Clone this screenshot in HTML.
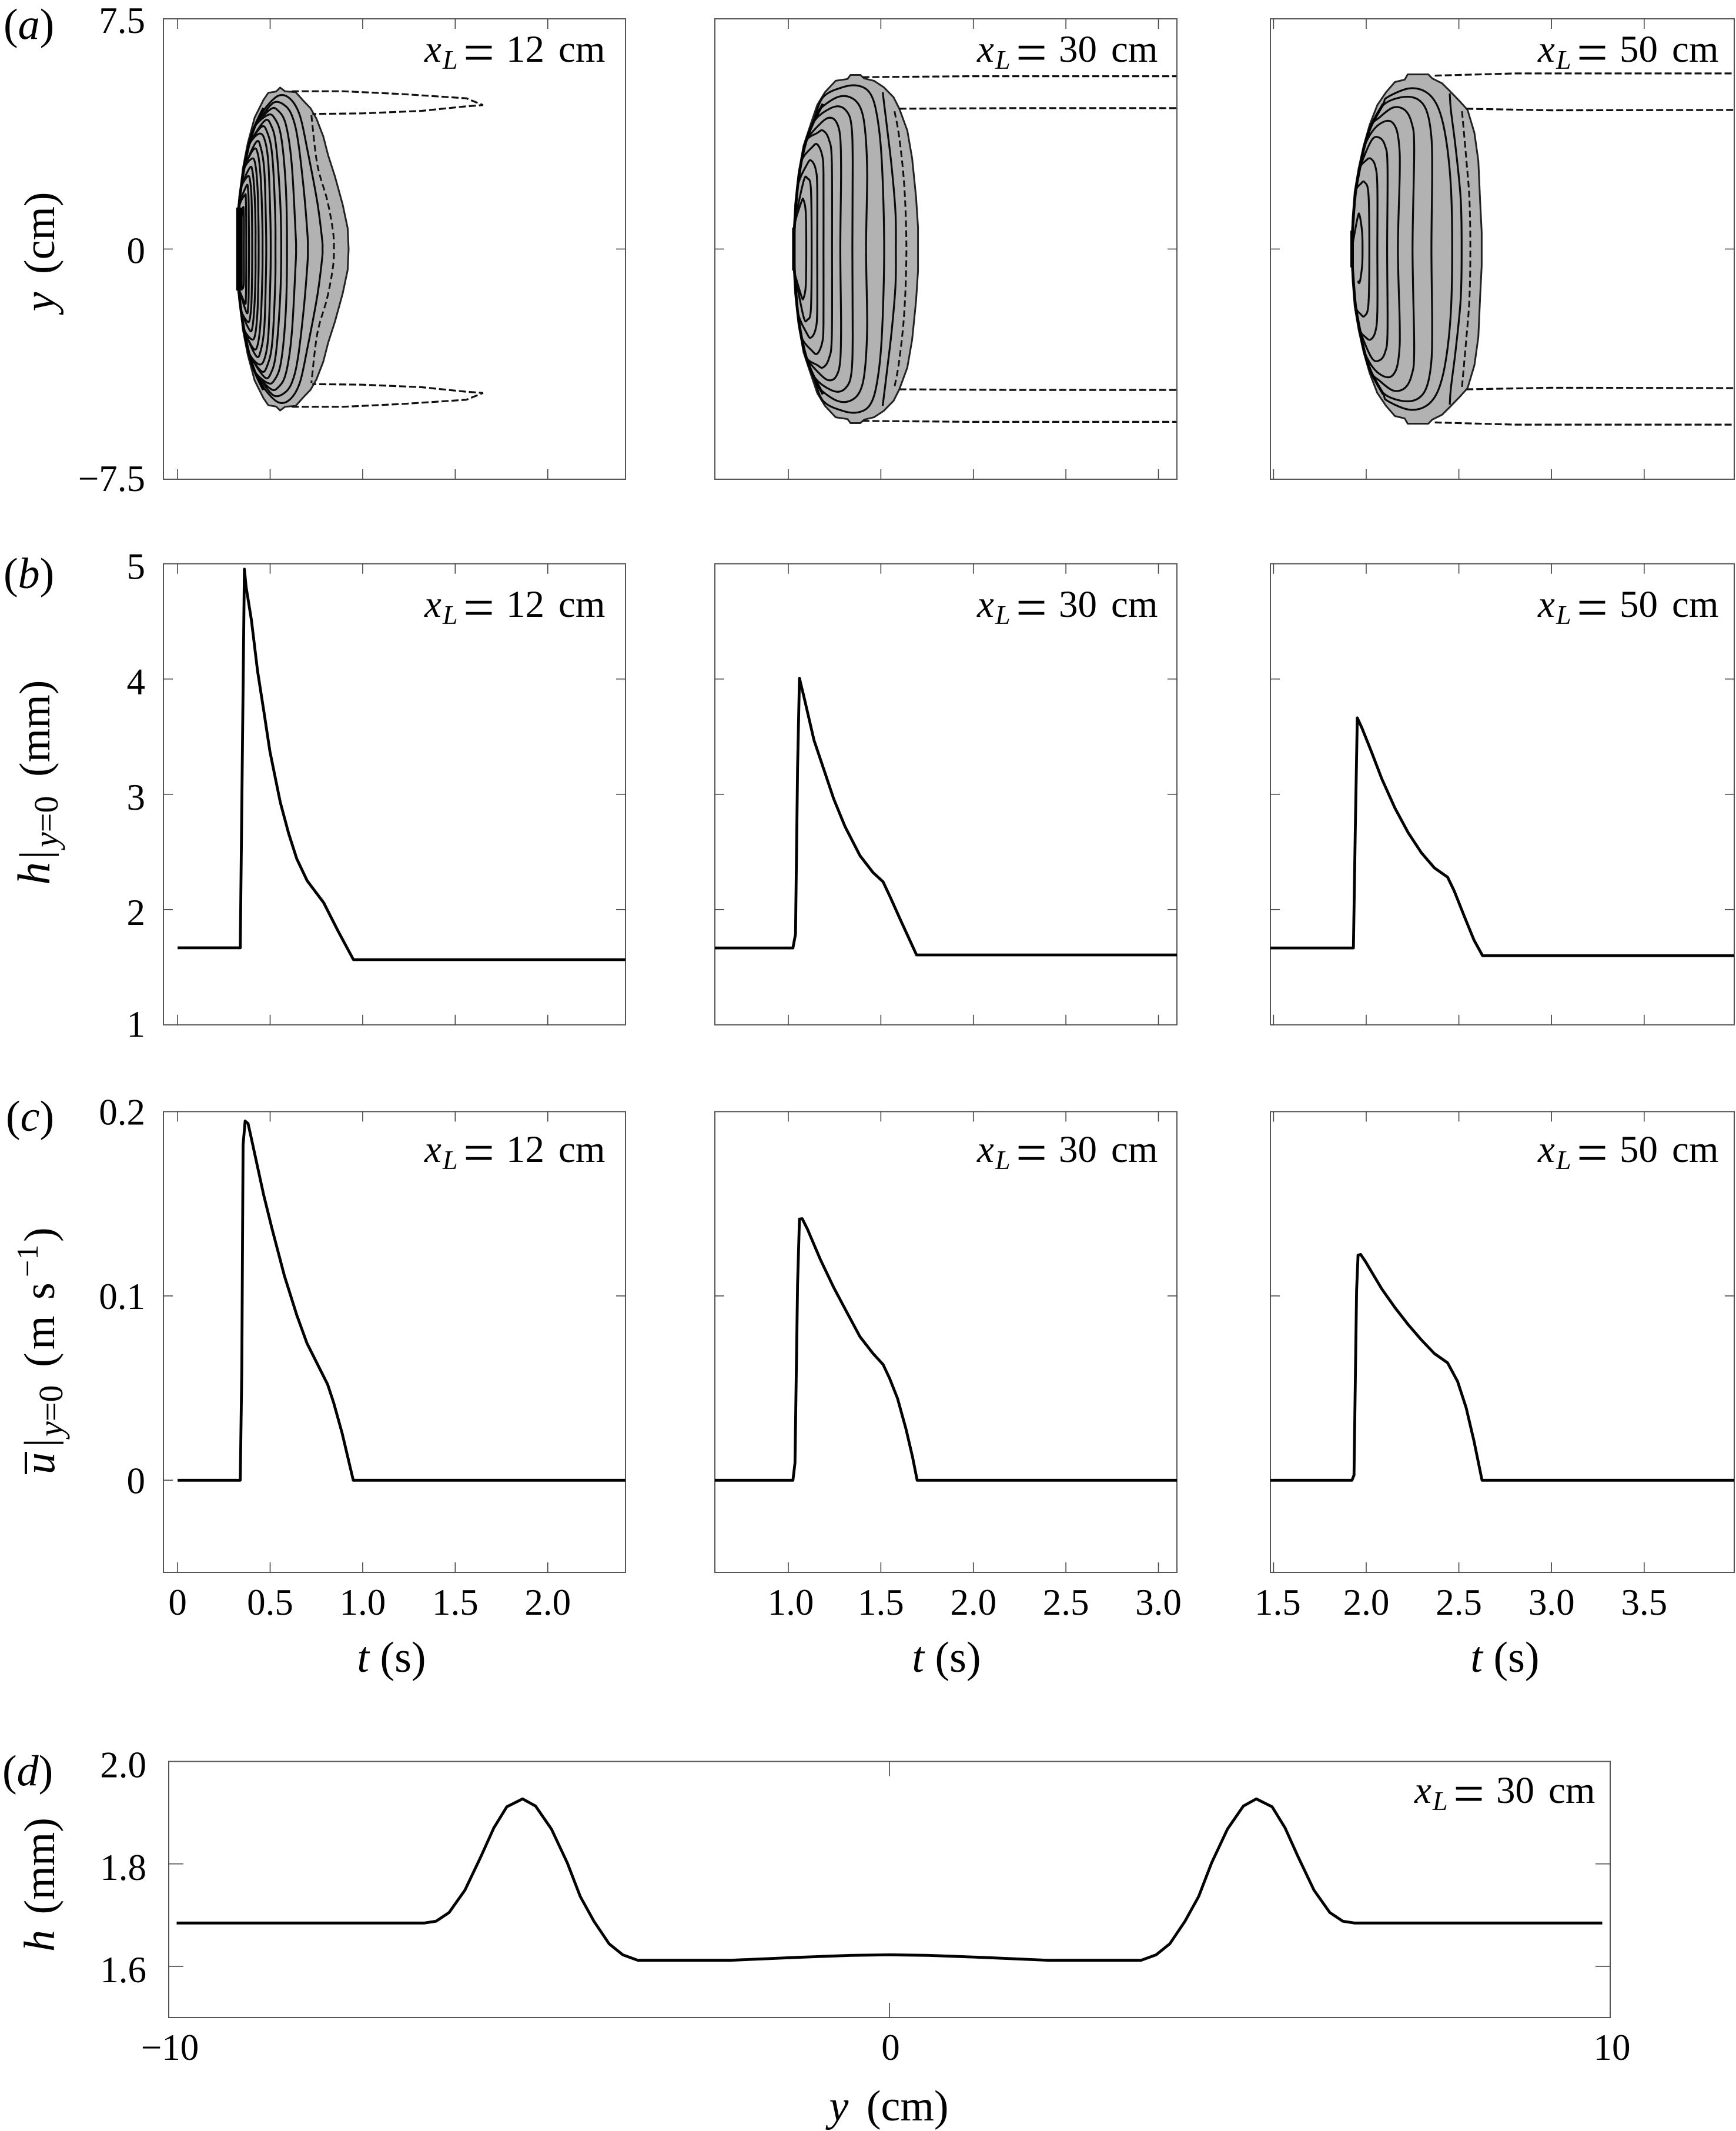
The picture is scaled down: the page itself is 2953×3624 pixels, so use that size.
<!DOCTYPE html>
<html lang="en">
<head>
<meta charset="utf-8">
<title>Bore front contours and profiles</title>
<style>
html,body{margin:0;padding:0;background:#fff;}
svg{display:block;}
text{font-family:"Liberation Serif",serif;fill:#000;}
.i{font-style:italic;}
.tick-label{font-size:63px;}
.lab{font-size:74px;}
.ann{font-size:65px;}
</style>
</head>
<body>
<svg id="fig" xmlns="http://www.w3.org/2000/svg" width="2953" height="3624" viewBox="0 0 2953 3624">
<rect x="0" y="0" width="2953" height="3624" fill="#fff"/>
<g id="marks"></g>

<text x="6" y="66" font-size="74">(<tspan class="i">a</tspan>)</text>
<text x="6" y="1000" font-size="74">(<tspan class="i">b</tspan>)</text>
<text x="10" y="1923" font-size="74">(<tspan class="i">c</tspan>)</text>
<text x="4" y="3036" font-size="74">(<tspan class="i">d</tspan>)</text>

<text class="lab" transform="translate(92,428) rotate(-90)" text-anchor="middle"><tspan class="i">y</tspan><tspan dx="12"> (cm)</tspan></text>
<text class="lab" transform="translate(84,1505) rotate(-90)"><tspan class="i" font-size="78" x="0">h</tspan><tspan x="44">|</tspan><tspan class="i" font-size="58" x="64" dy="14">y</tspan><tspan font-size="58">=0</tspan><tspan x="184" dy="-14">(mm)</tspan></text>
<g transform="translate(92,2507) rotate(-90)">
  <text><tspan class="i lab" x="0">u</tspan><tspan class="lab" x="46">|</tspan><tspan class="i" font-size="58" x="64" dy="14">y</tspan><tspan font-size="58">=0</tspan><tspan class="lab" x="182" dy="-14">(</tspan><tspan class="lab" x="212">m</tspan><tspan class="lab" x="297">s</tspan><tspan font-size="52" x="335" dy="-28">−1</tspan><tspan class="lab" x="395" dy="28">)</tspan></text>
  <rect x="0" y="-50" width="38" height="4" fill="#000"/>
</g>
<text class="lab" transform="translate(92,3205) rotate(-90)" text-anchor="middle"><tspan class="i">h</tspan><tspan dx="8"> (mm)</tspan></text>

<text class="lab" x="666" y="2843" text-anchor="middle"><tspan class="i">t</tspan> (s)</text>
<text class="lab" x="1610" y="2843" text-anchor="middle"><tspan class="i">t</tspan> (s)</text>
<text class="lab" x="2560" y="2843" text-anchor="middle"><tspan class="i">t</tspan> (s)</text>
<text class="lab" x="1512" y="3606" text-anchor="middle"><tspan class="i">y</tspan><tspan dx="12"> (cm)</tspan></text>

<text class="ann" transform="translate(1031,105)"><tspan class="i" x="-309">x</tspan><tspan class="i" font-size="46" x="-278" dy="12">L</tspan><tspan font-size="94" x="-243" dy="4">=</tspan><tspan x="-170" dy="-16">12</tspan><tspan x="-81">cm</tspan></text>
<text class="ann" transform="translate(1971,105)"><tspan class="i" x="-309">x</tspan><tspan class="i" font-size="46" x="-278" dy="12">L</tspan><tspan font-size="94" x="-243" dy="4">=</tspan><tspan x="-170" dy="-16">30</tspan><tspan x="-81">cm</tspan></text>
<text class="ann" transform="translate(2925,105)"><tspan class="i" x="-309">x</tspan><tspan class="i" font-size="46" x="-278" dy="12">L</tspan><tspan font-size="94" x="-243" dy="4">=</tspan><tspan x="-170" dy="-16">50</tspan><tspan x="-81">cm</tspan></text>
<text class="ann" transform="translate(1031,1049)"><tspan class="i" x="-309">x</tspan><tspan class="i" font-size="46" x="-278" dy="12">L</tspan><tspan font-size="94" x="-243" dy="4">=</tspan><tspan x="-170" dy="-16">12</tspan><tspan x="-81">cm</tspan></text>
<text class="ann" transform="translate(1971,1049)"><tspan class="i" x="-309">x</tspan><tspan class="i" font-size="46" x="-278" dy="12">L</tspan><tspan font-size="94" x="-243" dy="4">=</tspan><tspan x="-170" dy="-16">30</tspan><tspan x="-81">cm</tspan></text>
<text class="ann" transform="translate(2925,1049)"><tspan class="i" x="-309">x</tspan><tspan class="i" font-size="46" x="-278" dy="12">L</tspan><tspan font-size="94" x="-243" dy="4">=</tspan><tspan x="-170" dy="-16">50</tspan><tspan x="-81">cm</tspan></text>
<text class="ann" transform="translate(1031,1976)"><tspan class="i" x="-309">x</tspan><tspan class="i" font-size="46" x="-278" dy="12">L</tspan><tspan font-size="94" x="-243" dy="4">=</tspan><tspan x="-170" dy="-16">12</tspan><tspan x="-81">cm</tspan></text>
<text class="ann" transform="translate(1971,1976)"><tspan class="i" x="-309">x</tspan><tspan class="i" font-size="46" x="-278" dy="12">L</tspan><tspan font-size="94" x="-243" dy="4">=</tspan><tspan x="-170" dy="-16">30</tspan><tspan x="-81">cm</tspan></text>
<text class="ann" transform="translate(2925,1976)"><tspan class="i" x="-309">x</tspan><tspan class="i" font-size="46" x="-278" dy="12">L</tspan><tspan font-size="94" x="-243" dy="4">=</tspan><tspan x="-170" dy="-16">50</tspan><tspan x="-81">cm</tspan></text>
<text class="ann" transform="translate(2715,3066)"><tspan class="i" x="-309">x</tspan><tspan class="i" font-size="46" x="-278" dy="12">L</tspan><tspan font-size="94" x="-243" dy="4">=</tspan><tspan x="-170" dy="-16">30</tspan><tspan x="-81">cm</tspan></text>
</svg>

<script>
// ---------- tick values and labels ----------
const xTicksCol1 = [0, 0.5, 1.0, 1.5, 2.0];
const xTicksCol2 = [1.0, 1.5, 2.0, 2.5, 3.0];
const xTicksCol3 = [1.5, 2.0, 2.5, 3.0, 3.5];
const xTickLabelsCol1 = ['0', '0.5', '1.0', '1.5', '2.0'];
const xTickLabelsCol2 = ['1.0', '1.5', '2.0', '2.5', '3.0'];
const xTickLabelsCol3 = ['1.5', '2.0', '2.5', '3.0', '3.5'];
const yTicksA = [7.5, 0, -7.5];
const yTickLabelsA = ['7.5', '0', '−7.5'];
const yTicksB = [5, 4, 3, 2, 1];
const yTickLabelsB = ['5', '4', '3', '2', '1'];
const yTicksC = [0.2, 0.1, 0];
const yTickLabelsC = ['0.2', '0.1', '0'];
const yTicksD = [2.0, 1.8, 1.6];
const yTickLabelsD = ['2.0', '1.8', '1.6'];
const xTicksD = [-10, 0, 10];
const xTickLabelsD = ['−10', '0', '10'];

// ---------- panel (b): centreline depth h (mm) against t (s) ----------
const hTimeCol1 = [0, 0.3385, 0.361, 0.37, 0.399, 0.432, 0.466, 0.499, 0.555, 0.6, 0.644, 0.7, 0.789, 0.868, 0.95, 2.42];
const hValueCol1 = [1.668, 1.668, 4.953, 4.8, 4.51, 4.07, 3.72, 3.37, 2.93, 2.66, 2.44, 2.25, 2.06, 1.81, 1.565, 1.565];
const hTimeCol2 = [0.603, 1.025, 1.039, 1.05, 1.06, 1.085, 1.139, 1.192, 1.245, 1.306, 1.387, 1.458, 1.512, 1.547, 1.607, 1.693, 3.1];
const hValueCol2 = [1.667, 1.667, 1.787, 3.228, 4.007, 3.842, 3.468, 3.215, 2.961, 2.721, 2.468, 2.321, 2.241, 2.121, 1.907, 1.606, 1.606];
const hTimeCol3 = [1.483, 1.931, 1.941, 1.952, 1.977, 2.03, 2.084, 2.155, 2.226, 2.297, 2.368, 2.439, 2.475, 2.528, 2.582, 2.628, 3.986];
const hValueCol3 = [1.667, 1.667, 2.694, 3.663, 3.575, 3.362, 3.135, 2.881, 2.668, 2.494, 2.361, 2.281, 2.161, 1.947, 1.734, 1.6, 1.6];

// ---------- panel (c): centreline velocity (m/s) against t (s) ----------
const uTimeCol1 = [0, 0.3385, 0.347, 0.354, 0.365, 0.381, 0.399, 0.432, 0.465, 0.51, 0.577, 0.644, 0.699, 0.755, 0.811, 0.844, 0.889, 0.949, 2.42];
const uValueCol1 = [0, 0, 0.06, 0.182, 0.1949, 0.1935, 0.1853, 0.17, 0.1548, 0.1365, 0.111, 0.0896, 0.0743, 0.0631, 0.0519, 0.0418, 0.0255, 0, 0];
const uTimeCol2 = [0.603, 1.025, 1.036, 1.05, 1.06, 1.075, 1.103, 1.174, 1.245, 1.316, 1.387, 1.458, 1.512, 1.547, 1.59, 1.636, 1.671, 1.696, 3.1];
const uValueCol2 = [0, 0, 0.0094, 0.1063, 0.1417, 0.1419, 0.1363, 0.1196, 0.1046, 0.0912, 0.0779, 0.0687, 0.0628, 0.0553, 0.0444, 0.0277, 0.0127, 0, 0];
const uTimeCol3 = [1.483, 1.923, 1.934, 1.948, 1.956, 1.97, 1.995, 2.084, 2.155, 2.226, 2.297, 2.368, 2.439, 2.493, 2.539, 2.582, 2.625, 3.986];
const uValueCol3 = [0, 0, 0.0027, 0.1029, 0.1221, 0.1225, 0.1188, 0.1038, 0.0937, 0.0845, 0.0762, 0.0687, 0.0637, 0.0536, 0.0394, 0.0211, 0, 0];

// ---------- panel (d): depth profile h (mm) against y (cm) ----------
const profileY = [-9.89, -6.45, -6.29, -6.11, -5.89, -5.67, -5.49, -5.31, -5.09, -4.91, -4.69, -4.47, -4.29, -4.10, -3.89, -3.70, -3.49, -2.21, -1.27, -0.54, 0, 0.54, 1.27, 2.21, 3.49, 3.70, 3.89, 4.10, 4.29, 4.47, 4.69, 4.91, 5.09, 5.31, 5.49, 5.67, 5.89, 6.11, 6.29, 6.45, 9.89];
const profileH = [1.6845, 1.6845, 1.688, 1.705, 1.7487, 1.814, 1.870, 1.9115, 1.927, 1.913, 1.868, 1.802, 1.7365, 1.688, 1.644, 1.6224, 1.6117, 1.6117, 1.6175, 1.6214, 1.6224, 1.6214, 1.6175, 1.6117, 1.6117, 1.6224, 1.644, 1.688, 1.7365, 1.802, 1.868, 1.913, 1.927, 1.9115, 1.870, 1.814, 1.7487, 1.705, 1.688, 1.6845, 1.6845];

// ---------- panel (a): plan-view shapes, upper half as [t, y in cm] ----------
const outlineCol1 = [[.326,0],[.326,1.3],[.342,1.98],[.352,2.6],[.379,3.44],[.416,4.28],[.464,4.86],[.49,5.09],[.532,5.13],[.554,5.26],[.58,5.14],[.638,5.11],[.681,4.82],[.718,4.59],[.75,4.25],[.787,3.67],[.813,3.06],[.85,2.37],[.892,1.45],[.919,.68],[.924,0]];
const frontCol1 = [[.326,0],[.331,1.3],[.342,1.98],[.358,2.6],[.384,3.36],[.416,3.98],[.464,4.59]];
const frontCoreCol1 = [[.334,1.35],[.334,0]];
const contoursCol1 = [
 [[.464,4.51],[.543,4.99],[.607,4.90],[.66,4.36],[.702,3.21],[.755,1.52],[.781,.3],[.783,0]],
 [[.464,4.40],[.522,4.78],[.575,4.70],[.617,4.36],[.649,3.59],[.681,1.98],[.702,.45],[.704,0]],
 [[.501,4.55],[.543,4.51],[.585,4.05],[.617,2.75],[.638,.45],[.64,0]],
 [[.485,4.36],[.522,4.28],[.559,3.67],[.585,1.98],[.591,0]],
 [[.469,4.17],[.506,4.02],[.532,3.36],[.554,1.6],[.56,0]],
 [[.453,3.98],[.485,3.79],[.511,3.06],[.527,1.22],[.529,0]],
 [[.437,3.75],[.469,3.59],[.49,2.83],[.501,1.07],[.503,0]],
 [[.424,3.48],[.45,3.29],[.469,2.52],[.477,.91],[.479,0]],
 [[.411,3.25],[.435,3.06],[.45,2.21],[.458,.84],[.459,0]],
 [[.4,2.94],[.419,2.79],[.432,1.98],[.437,.84],[.438,0]],
 [[.389,2.64],[.405,2.52],[.416,1.75],[.421,.76],[.421,0]],
 [[.379,2.37],[.392,2.21],[.4,1.6],[.403,0]],
 [[.372,2.06],[.381,1.91],[.384,1.45],[.386,0]],
 [[.363,1.75],[.369,1.56],[.371,0]],
 [[.352,1.3],[.358,1.07],[.358,0]]
];
const openContoursCol1 = [];
const innerDashCol1 = [[.723,4.36],[.755,2.75],[.808,1.6],[.839,.61],[.845,0]];
const wakeCol1 = [[[.617,5.14],[.893,5.14],[1.21,5.05],[1.56,4.91],[1.65,4.69],[1.56,4.65],[1.316,4.5],[.998,4.42],[.728,4.4]]];

const outlineCol2 = [[1.026,0],[1.029,.54],[1.037,1.45],[1.055,2.45],[1.082,3.36],[1.119,4.03],[1.156,4.69],[1.198,5.11],[1.256,5.48],[1.32,5.54],[1.336,5.67],[1.389,5.67],[1.41,5.56],[1.463,5.48],[1.516,5.27],[1.569,4.94],[1.6,4.57],[1.643,3.86],[1.669,2.95],[1.69,1.7],[1.701,.71],[1.701,0]];
const frontCol2 = [[1.029,0],[1.034,.79],[1.05,2.03],[1.071,2.87],[1.097,3.53],[1.134,4.11],[1.187,4.73]];
const frontCoreCol2 = [[1.03,.7],[1.03,0]];
const contoursCol2 = [
 [[1.187,4.94],[1.293,5.27],[1.378,5.32],[1.442,5.07],[1.479,4.36],[1.505,2.87],[1.518,0]],
 [[1.166,4.53],[1.262,4.94],[1.336,4.94],[1.389,4.61],[1.415,3.86],[1.426,2.45],[1.42,0]],
 [[1.187,4.44],[1.262,4.65],[1.315,4.49],[1.341,4.03],[1.348,2.87],[1.346,0]],
 [[1.177,4.11],[1.225,4.28],[1.262,4.11],[1.281,3.61],[1.285,2.45],[1.281,0]],
 [[1.156,3.78],[1.187,3.86],[1.219,3.57],[1.235,2.87],[1.236,0]],
 [[1.129,3.32],[1.156,3.41],[1.182,3.07],[1.19,2.45],[1.19,0]],
 [[1.103,2.78],[1.124,2.88],[1.147,2.62],[1.156,2.03],[1.156,0]],
 [[1.082,2.2],[1.103,2.3],[1.122,1.95],[1.126,0]],
 [[1.071,1.54],[1.082,1.6],[1.094,1.2],[1.097,0]]
];
const openContoursCol2 = [[[1.51,5.11],[1.532,4.03],[1.558,2.7],[1.579,1.2],[1.581,0]]];
const innerDashCol2 = [[1.574,4.49],[1.6,3.61],[1.627,2.03],[1.638,0]];
const wakeCol2 = [[[1.4,5.6],[2.0,5.63],[3.1,5.63]], [[1.6,4.57],[2.2,4.59],[3.1,4.59]]];

const outlineCol3 = [[1.92,0],[1.927,1.04],[1.938,1.87],[1.959,2.62],[1.986,3.36],[2.018,4.03],[2.06,4.69],[2.107,5.11],[2.155,5.44],[2.208,5.52],[2.224,5.69],[2.335,5.69],[2.356,5.56],[2.409,5.4],[2.451,5.15],[2.504,4.82],[2.547,4.53],[2.584,3.78],[2.605,2.87],[2.615,1.54],[2.623,.54],[2.623,0]];
const frontCol3 = [[1.922,0],[1.931,1.04],[1.943,1.87],[1.965,2.62],[1.991,3.36],[2.028,4.03],[2.092,4.73]];
const frontCoreCol3 = [[1.924,.6],[1.924,0]];
const contoursCol3 = [
 [[2.113,4.94],[2.229,5.23],[2.324,5.11],[2.388,4.61],[2.43,3.61],[2.457,2.03],[2.464,0]],
 [[2.092,4.69],[2.187,4.94],[2.271,4.9],[2.324,4.53],[2.351,3.7],[2.356,2.45],[2.352,0]],
 [[2.07,4.28],[2.145,4.61],[2.208,4.53],[2.245,4.11],[2.259,3.28],[2.25,0]],
 [[2.049,3.95],[2.118,4.18],[2.16,3.95],[2.178,3.36],[2.181,2.45],[2.171,0]],
 [[2.028,3.53],[2.07,3.63],[2.102,3.36],[2.115,2.7],[2.113,0]],
 [[1.996,2.87],[2.023,2.95],[2.049,2.7],[2.06,2.03],[2.06,0]],
 [[1.97,2.12],[1.991,2.18],[2.012,1.79],[2.017,0]],
 [[1.954,1.04],[1.965,1.08],[1.978,.55],[1.98,0]]
];
const openContoursCol3 = [[[2.451,5.07],[2.457,4.53],[2.483,3.28],[2.51,1.62],[2.515,0]]];
const innerDashCol3 = [[2.517,4.49],[2.541,2.87],[2.557,1.63],[2.562,0]];
const wakeCol3 = [[[2.37,5.65],[2.8,5.72],[3.986,5.72]], [[2.54,4.57],[3.0,4.52],[3.986,4.53]]];

// ---------- axis functions ----------
const NS = 'http://www.w3.org/2000/svg';
const root = document.getElementById('marks');
function scale(d0, d1, r0, r1) { return function (v) { return r0 + (v - d0) * (r1 - r0) / (d1 - d0); }; }
const colX = [
  { l: 278, r: 1064, x: scale(-0.0765, 2.42, 278, 1064) },
  { l: 1216, r: 2002, x: scale(0.603, 3.1, 1216, 2002) },
  { l: 2161, r: 2950, x: scale(1.483, 3.986, 2161, 2950) }
];
const rowA = { t: 32, b: 815, y: scale(-7.5, 7.5, 815, 32), off: 24 };
const rowB = { t: 958.7, b: 1742.8, y: scale(1, 5, 1742.8, 958.7), off: 26 };
const rowC = { t: 1890.4, b: 2674, y: scale(-0.05, 0.2, 2674, 1890.4), off: 22 };
const rowD = { t: 2995.6, b: 3431, y: scale(1.5, 2.0, 3431, 2995.6) };
const xD = scale(-10, 10, 287, 2739);

function mk(tag, attrs, parent) {
  const n = document.createElementNS(NS, tag);
  for (const k in attrs) n.setAttribute(k, attrs[k]);
  (parent || root).appendChild(n);
  return n;
}
function group(name) {
  const g = mk('g', {});
  
  
  return g;
}
function tickMark(g, x1, y1, x2, y2) {
  const el = mk('line', { x1: x1, y1: y1, x2: x2, y2: y2, stroke: '#444', 'stroke-width': 1.6 }, g);
  
  
}
function frame(g, l, t, r, b) {
  const el = mk('rect', { x: l, y: t, width: r - l, height: b - t, fill: 'none', stroke: '#555', 'stroke-width': 2 }, g);
  
  
}
function tickLabel(g, x, y, str, anchor) {
  const el = mk('text', { x: x, y: y, 'text-anchor': anchor, class: 'tick-label' }, g);
  el.textContent = str;
  
  
}
function xTicksFor(g, c, row, ticks, labels, firstShift) {
  ticks.forEach(function (v, i) {
    const px = c.x(v);
    tickMark(g, px, row.t, px, row.t + 17);
    tickMark(g, px, row.b, px, row.b - 17);
    if (labels) tickLabel(g, px + (i === 0 ? firstShift : 0), 2746, labels[i], 'middle');
  });
}
function yTicksFor(g, c, row, ticks) {
  ticks.forEach(function (v) {
    const py = row.y(v);
    if (Math.abs(py - row.t) < 1 || Math.abs(py - row.b) < 1) return;
    tickMark(g, c.l, py, c.l + 16, py);
    tickMark(g, c.r, py, c.r - 16, py);
  });
}
function yLabels(g, row, ticks, labels) {
  ticks.forEach(function (v, i) {
    const py = row.y(v);
    let off = row.off;
    if (Math.abs(py - row.b) < 1) off = 20;
    tickLabel(g, 247, py + off, labels[i], 'end');
  });
}
function linePath(xs, ys, fx, fy) {
  return xs.map(function (v, i) { return (i ? 'L' : 'M') + fx(v).toFixed(1) + ' ' + fy(ys[i]).toFixed(1); }).join('');
}
function curve(g, xs, ys, fx, fy, name) {
  const el = mk('path', { d: linePath(xs, ys, fx, fy), fill: 'none', stroke: '#000', 'stroke-width': 4.8, 'stroke-linejoin': 'round' }, g);
  
  
}
function smooth(pts) {
  let d = 'M' + pts[0][0].toFixed(1) + ' ' + pts[0][1].toFixed(1);
  for (let i = 0; i < pts.length - 1; i++) {
    const p0 = pts[Math.max(0, i - 1)], p1 = pts[i], p2 = pts[i + 1], p3 = pts[Math.min(pts.length - 1, i + 2)];
    const c1x = p1[0] + (p2[0] - p0[0]) / 6, c1y = p1[1] + (p2[1] - p0[1]) / 6;
    const c2x = p2[0] - (p3[0] - p1[0]) / 6, c2y = p2[1] - (p3[1] - p1[1]) / 6;
    d += 'C' + c1x.toFixed(1) + ' ' + c1y.toFixed(1) + ' ' + c2x.toFixed(1) + ' ' + c2y.toFixed(1) + ' ' + p2[0].toFixed(1) + ' ' + p2[1].toFixed(1);
  }
  return d;
}
function mirrored(upper) {
  const lower = upper.slice().reverse().filter(function (p) { return p[1] !== 0; }).map(function (p) { return [p[0], -p[1]]; });
  return upper.concat(lower);
}
function toPx(c, pts) { return pts.map(function (p) { return [c.x(p[0]), rowA.y(p[1])]; }); }

function drawPlanView(g, c, outline, front, core, coreW, contours, open, dash, wake) {
  const poly = toPx(c, mirrored(outline));
  const body = mk('path', { d: poly.map(function (p, i) { return (i ? 'L' : 'M') + p[0].toFixed(1) + ' ' + p[1].toFixed(1); }).join('') + 'Z', fill: '#b2b2b2', stroke: '#222', 'stroke-width': 3, 'stroke-linejoin': 'round' }, g);
  
  

  contours.forEach(function (ct) {
    const start = ct[0];
    const lead = front.filter(function (p) { return p[1] < start[1] - 0.2 && p[0] < start[0] - 0.02; });
    const upper = lead.concat(ct);
    const el = mk('path', { d: smooth(toPx(c, mirrored(upper))), fill: 'none', stroke: '#0a0a0a', 'stroke-width': 3.2 }, g);
    
    
  });
  open.forEach(function (ct) {
    const el = mk('path', { d: smooth(toPx(c, mirrored(ct))), fill: 'none', stroke: '#0a0a0a', 'stroke-width': 3.2 }, g);
    
    
  });
  const fr = mk('path', { d: smooth(toPx(c, mirrored(front.slice().reverse()))), fill: 'none', stroke: '#000', 'stroke-width': 4.6 }, g);
  
  
  const cr = mk('path', { d: smooth(toPx(c, mirrored(core))), fill: 'none', stroke: '#000', 'stroke-width': coreW }, g);
  
  

  const dashEl = mk('path', { d: smooth(toPx(c, mirrored(dash))), fill: 'none', stroke: '#111', 'stroke-width': 3, 'stroke-dasharray': '11 6' }, g);
  
  

  wake.forEach(function (w) {
    [1, -1].forEach(function (sign) {
      const pts = toPx(c, w.map(function (p) { return [p[0], p[1] * sign]; }));
      const el = mk('path', { d: pts.map(function (p, i) { return (i ? 'L' : 'M') + p[0].toFixed(1) + ' ' + p[1].toFixed(1); }).join(''), fill: 'none', stroke: '#111', 'stroke-width': 3.2, 'stroke-dasharray': '12 5' }, g);
      
      
    });
  });
}

// ---------- draw panels ----------
const colTicks = [xTicksCol1, xTicksCol2, xTicksCol3];
const colTickLabels = [xTickLabelsCol1, xTickLabelsCol2, xTickLabelsCol3];
const firstLabelShift = [0, 4, 7];
const coreWidths = [11, 6, 6];
const planData = [
  [outlineCol1, frontCol1, frontCoreCol1, contoursCol1, openContoursCol1, innerDashCol1, wakeCol1],
  [outlineCol2, frontCol2, frontCoreCol2, contoursCol2, openContoursCol2, innerDashCol2, wakeCol2],
  [outlineCol3, frontCol3, frontCoreCol3, contoursCol3, openContoursCol3, innerDashCol3, wakeCol3]
];
const hSeries = [[hTimeCol1, hValueCol1], [hTimeCol2, hValueCol2], [hTimeCol3, hValueCol3]];
const uSeries = [[uTimeCol1, uValueCol1], [uTimeCol2, uValueCol2], [uTimeCol3, uValueCol3]];

colX.forEach(function (c, i) {
  const pd = planData[i];
  const ga = group('panel-a-col' + (i + 1));
  drawPlanView(ga, c, pd[0], pd[1], pd[2], coreWidths[i], pd[3], pd[4], pd[5], pd[6]);
  frame(ga, c.l, rowA.t, c.r, rowA.b);
  xTicksFor(ga, c, rowA, colTicks[i], null, 0);
  yTicksFor(ga, c, rowA, yTicksA);

  const gb = group('panel-b-col' + (i + 1));
  frame(gb, c.l, rowB.t, c.r, rowB.b);
  xTicksFor(gb, c, rowB, colTicks[i], null, 0);
  yTicksFor(gb, c, rowB, yTicksB);
  curve(gb, hSeries[i][0], hSeries[i][1], c.x, rowB.y, 'depth-curve');

  const gc = group('panel-c-col' + (i + 1));
  frame(gc, c.l, rowC.t, c.r, rowC.b);
  xTicksFor(gc, c, rowC, colTicks[i], colTickLabels[i], firstLabelShift[i]);
  yTicksFor(gc, c, rowC, yTicksC);
  curve(gc, uSeries[i][0], uSeries[i][1], c.x, rowC.y, 'velocity-curve');
});

const gLabA = group('y-tick-labels-a');
yLabels(gLabA, rowA, yTicksA, yTickLabelsA);
const gLabB = group('y-tick-labels-b');
yLabels(gLabB, rowB, yTicksB, yTickLabelsB);
const gLabC = group('y-tick-labels-c');
yLabels(gLabC, rowC, yTicksC, yTickLabelsC);

const gd = group('panel-d');
frame(gd, 287, rowD.t, 2739, rowD.b);
const cD = { l: 287, r: 2739, x: xD };
yTicksD.forEach(function (v) {
  const py = rowD.y(v);
  tickLabel(gd, 249, py + 27, yTickLabelsD[yTicksD.indexOf(v)], 'end');
  if (Math.abs(py - rowD.t) < 1) return;
  tickMark(gd, cD.l, py, cD.l + 25, py);
  tickMark(gd, cD.r, py, cD.r - 25, py);
});
xTicksD.forEach(function (v, i) {
  const px = xD(v);
  if (v === 0) {
    tickMark(gd, px, rowD.t, px, rowD.t + 25);
    tickMark(gd, px, rowD.b, px, rowD.b - 25);
  }
  tickLabel(gd, px + (i === 2 ? 3 : 2), 3503, xTickLabelsD[i], 'middle');
});
curve(gd, profileY, profileH, xD, rowD.y, 'depth-profile-curve');
</script>
</body>
</html>
